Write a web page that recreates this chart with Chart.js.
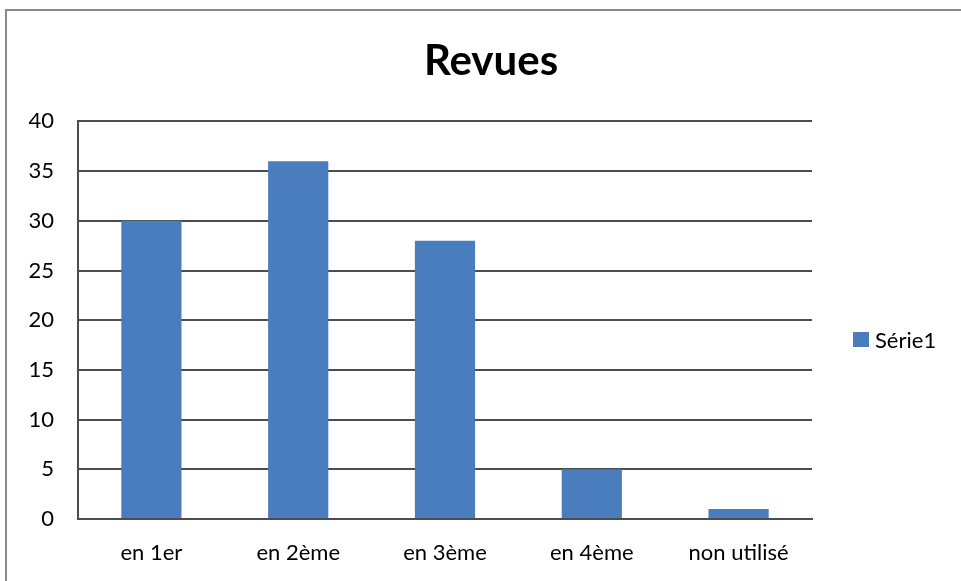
<!DOCTYPE html>
<html><head><meta charset="utf-8">
<script src="https://cdn.jsdelivr.net/npm/chart.js@4/dist/chart.umd.min.js"></script>
<style>html,body{margin:0;padding:0;background:#fff}#wrap{width:961px;height:581px;position:relative}</style>
</head><body><div id="wrap"><canvas id="c" width="961" height="581"></canvas></div>
<script>
const categories = ["en 1er", "en 2ème", "en 3ème", "en 4ème", "non utilisé"];
const values = [30, 36, 28, 5, 1];
const seriesName = "Série1";
const chartTitle = "Revues";
const yMin = 0, yMax = 40, yStep = 5;

const FONT = "Lato, 'Open Sans', sans-serif";
const BAR = "#4a7dbd";
const GRID = "#4d4d4d";

const framePlugin = {
  id: 'frame',
  beforeDraw(chart) {
    const ctx = chart.ctx;
    ctx.save();
    ctx.strokeStyle = '#8a8a8a';
    ctx.lineWidth = 2;
    ctx.beginPath();
    ctx.moveTo(6, chart.height);
    ctx.lineTo(6, 10);
    ctx.lineTo(chart.width, 10);
    ctx.stroke();
    ctx.restore();
  }
};

const legendPlugin = {
  id: 'sideLegend',
  afterDraw(chart) {
    const ctx = chart.ctx;
    const ds = chart.data.datasets[0];
    const x = chart.chartArea.right + 41;
    const y = 340;
    ctx.save();
    ctx.fillStyle = ds.backgroundColor;
    ctx.fillRect(x, y - 8, 16, 15);
    ctx.fillStyle = '#000';
    ctx.font = "22px " + FONT;
    ctx.textBaseline = 'middle';
    ctx.fillText(ds.label, x + 22, y + 1);
    ctx.restore();
  }
};

new Chart(document.getElementById('c'), {
  type: 'bar',
  data: {
    labels: categories,
    datasets: [{
      label: seriesName,
      data: values,
      backgroundColor: BAR,
      borderWidth: 0,
      categoryPercentage: 1,
      barPercentage: 0.41,
      yAxisID: 'y'
    }]
  },
  options: {
    responsive: false,
    animation: false,
    layout: { padding: { top: 30, left: 21, right: 0, bottom: 0 } },
    plugins: {
      legend: { display: false },
      tooltip: { enabled: false },
      title: {
        display: true,
        text: chartTitle,
        color: '#000',
        font: { family: FONT, size: 42, weight: 'bold' },
        padding: { top: 6, bottom: 35 }
      }
    },
    scales: {
      x: {
        grid: { display: false, drawTicks: false },
        border: { display: true, color: GRID, width: 2 },
        ticks: { color: '#000', font: { family: FONT, size: 22 }, padding: 21 },
        afterFit(s) { s.height = 62; }
      },
      y: {
        position: 'left',
        min: yMin, max: yMax,
        ticks: { stepSize: yStep, color: '#000', font: { family: FONT, size: 22 }, padding: 24 },
        grid: { color: GRID, lineWidth: 2, drawTicks: false },
        border: { display: true, color: GRID, width: 2 },
        afterFit(s) { s.width = 57; }
      },
      yRight: {
        position: 'right',
        display: true,
        grid: { display: false, drawTicks: false },
        border: { display: false },
        ticks: { display: false },
        afterFit(s) { s.width = 149; }
      }
    }
  },
  plugins: [framePlugin, legendPlugin]
});
</script></body></html>
